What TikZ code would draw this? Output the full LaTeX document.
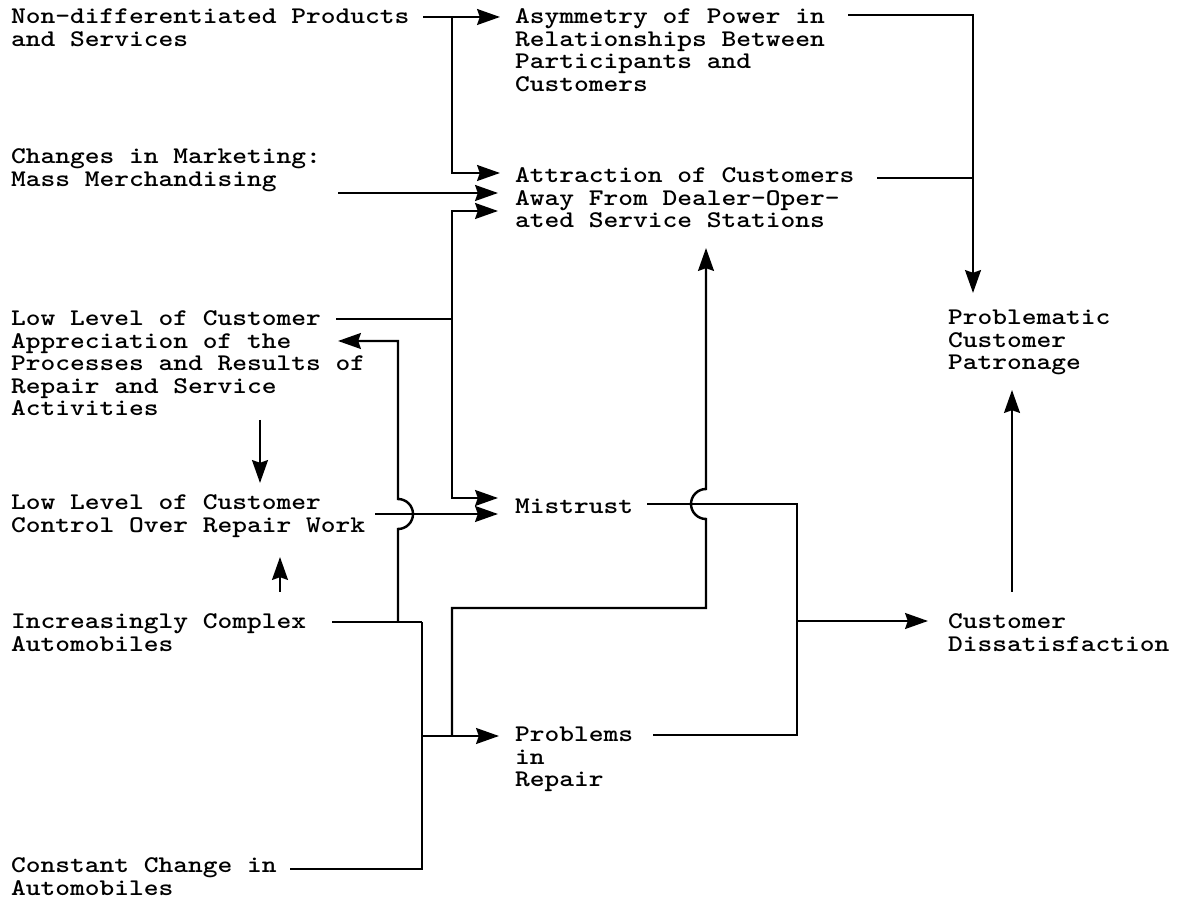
\documentclass[tikz,border=0pt]{standalone}
\usetikzlibrary{arrows.meta,calc}

\begin{document}
\begin{tikzpicture}[x=0.02cm,y=-0.02cm,line width=1.4pt]
	\tikzset{factor/.style={anchor=north west,align=left,inner sep=0pt,outer sep=0pt,
		yscale=0.85,transform shape,
		font={\ttfamily\bfseries\fontsize{16}{15.06}\selectfont\lineskiplimit=-20pt},
		execute at begin node={\rule{0pt}{14.8pt}}}}
	\tikzset{flow/.style={-{Stealth[length=13pt,width=9pt,inset=1.5pt]}}}
	\useasboundingbox (0,0) rectangle (1180,911);

	\node[factor] (ndp) at (11,9) {Non-differentiated Products\\and Services};
	\node[factor] (mkt) at (11,149) {Changes in Marketing:\\Mass Merchandising};
	\node[factor] (apr) at (11,311) {Low Level of Customer\\Appreciation of the\\Processes and Results of\\Repair and Service\\Activities};
	\node[factor] (ctl) at (11,495) {Low Level of Customer\\Control Over Repair Work};
	\node[factor] (cpx) at (11,614) {Increasingly Complex\\Automobiles};
	\node[factor] (chg) at (11,858) {Constant Change in\\Automobiles};
	\node[factor] (asy) at (515,9) {Asymmetry of Power in\\Relationships Between\\Participants and\\Customers};
	\node[factor] (att) at (515,168) {Attraction of Customers\\Away From Dealer-Oper-\\ated Service Stations};
	\node[factor] (mis) at (515,491) {Mistrust};
	\node[factor] (rep) at (515,727) {Problems\\in\\Repair};
	\node[factor] (pat) at (948,310) {Problematic\\Customer\\Patronage};
	\node[factor] (dis) at (948,614) {Customer\\Dissatisfaction};

	% bends
	\coordinate (busA) at (452,17);
	\coordinate (busB) at (452,319);
	\coordinate (busC) at (422,622);
	\coordinate (busD) at (398,622);
	\coordinate (busE) at (452,736);
	\coordinate (busF) at (797,504);
	\coordinate (busG) at (973,15);

	\draw[flow] ($(ndp.north west)+(412,8)$) -- ($(asy.north west)+(-15,8)$);
	\draw[flow] (busA) |- ($(att.north west)+(-15,5)$);
	\draw[flow] ($(mkt.north west)+(327,44)$) -- ($(att.north west)+(-17,25)$);
	\draw ($(apr.north west)+(325,8)$) -- (busB);
	\draw[flow] (busB) |- ($(att.north west)+(-17,43)$);
	\draw[flow] (busB) |- ($(mis.north west)+(-17,7)$);
	\draw[flow] ($(ctl.north west)+(364,19)$) -- ($(mis.north west)+(-17,23)$);

	% back to appreciation, hopping over the control line
	\draw[flow] (busD) -- ++(0,-93) arc[start angle=-90,end angle=90,radius=0.3cm]
		|- ($(apr.north west)+(327,30)$);

	\draw ($(cpx.north west)+(321,8)$) -- (busC);
	\draw ($(chg.north west)+(279,11)$) -| (busC);
	\draw[flow] (busC |- busE) -- ($(rep.north west)+(-16,9)$);

	% up to attraction, hopping over the mistrust line
	\draw[flow] (busE) |- ($(att.north west)+(191,440)$) -- ++(0,-89)
		arc[start angle=-90,end angle=-270,radius=0.3cm] -- ($(att.north west)+(191,80)$);

	\draw ($(mis.north west)+(132,13)$) -- (busF) |- ($(rep.north west)+(138,8)$);
	\draw[flow] ($(busF)+(0,117)$) -- ($(dis.north west)+(-20,7)$);

	\draw[flow] ($(asy.north west)+(333,6)$) -- (busG) -- ($(pat.north west)+(25,-17)$);
	\draw ($(att.north west)+(362,10)$) -- ($(busG)+(0,163)$);
	\draw[flow] ($(dis.north west)+(64,-22)$) -- ($(pat.north west)+(64,80)$);

	\draw[flow] ($(apr.north west)+(249,109)$) -- ($(ctl.north west)+(249,-12)$);
	\draw[flow] ($(cpx.north west)+(269,-22)$) -- ($(ctl.north west)+(269,62)$);
\end{tikzpicture}
\end{document}
